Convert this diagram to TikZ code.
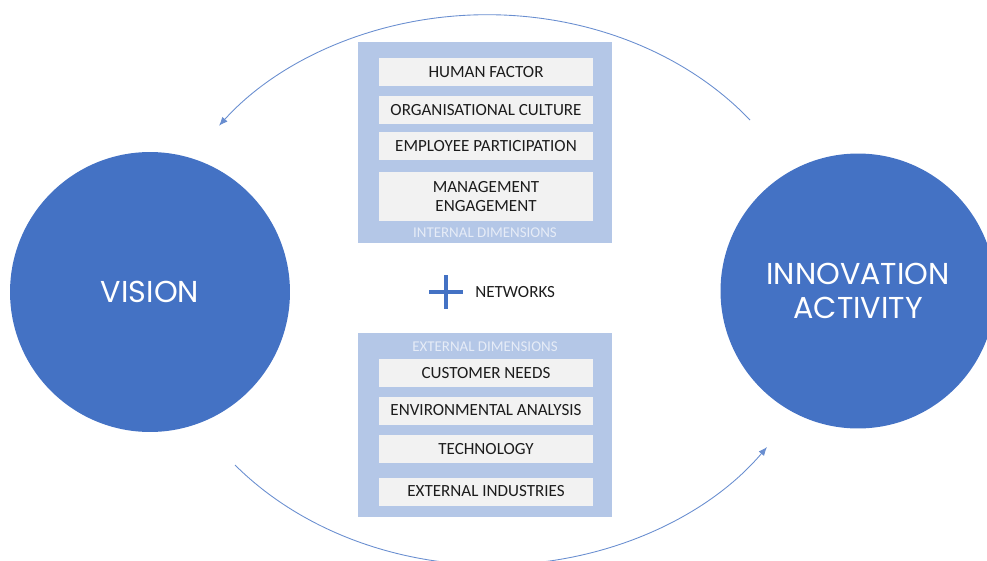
\documentclass[tikz,border=0pt]{standalone}
\usepackage{fontspec}
\setmainfont{Carlito}
\newfontfamily\geofont{Poppins}
\usetikzlibrary{arrows.meta}
\definecolor{cblue}{HTML}{4472C4}
\definecolor{cpanel}{HTML}{B4C7E7}
\definecolor{cbox}{HTML}{F2F2F2}
\definecolor{ctext}{HTML}{1C1C1C}
\definecolor{clabel}{HTML}{E6ECF7}

\begin{document}
\begin{tikzpicture}[x=0.02cm,y=-0.02cm,
  panel/.style={fill=cpanel,minimum width=5.08cm,inner sep=0pt},
  item/.style={fill=cbox,minimum width=4.28cm,minimum height=0.56cm,inner sep=0pt,
    text=ctext,font=\fontsize{9.7}{11.2}\selectfont,align=center},
  dimlabel/.style={text=clabel,font=\fontsize{8.5}{9}\selectfont,inner sep=0pt},
  bubble/.style={circle,fill=cblue,minimum size=5.6cm,inner sep=0pt,text=white,
    font=\geofont\fontsize{17.2}{19.8}\selectfont,align=center},
  loop/.style={cblue!80,line width=0.5pt,-{Latex[length=5pt,width=4pt]}}]
\useasboundingbox (0,0) rectangle (987,561);
% circles
\node[bubble] (vision) at (150,292) {VISION};
\node[bubble,minimum size=5.5cm] (innov) at (858,291) {INNOVATION\\ACTIVITY};
% internal dimensions
\node[panel,minimum height=4.02cm] (inpanel) at (485,142.5) {};
\node[item] (human) at (486,72) {HUMAN FACTOR};
\node[item] (culture) at (486,110) {ORGANISATIONAL CULTURE};
\node[item] (employee) at (486,146) {EMPLOYEE PARTICIPATION};
\node[item,minimum height=0.98cm] (mgmt) at (486,196.5) {MANAGEMENT\\ENGAGEMENT};
\node[dimlabel] (inlabel) at (485,233) {INTERNAL DIMENSIONS};
% networks
\draw[cblue,line width=2.4pt] (429,292) -- (463,292) (446,275) -- (446,309);
\node[anchor=west,text=ctext,font=\fontsize{9.7}{11.2}\selectfont,inner sep=0pt] (net) at (475,292) {NETWORKS};
% external dimensions
\node[panel,minimum height=3.68cm] (expanel) at (485,425) {};
\node[dimlabel] (exlabel) at (485,347) {EXTERNAL DIMENSIONS};
\node[item] (customer) at (486,373) {CUSTOMER NEEDS};
\node[item] (environ) at (486,410.5) {ENVIRONMENTAL ANALYSIS};
\node[item] (tech) at (486,449) {TECHNOLOGY};
\node[item] (industry) at (486,491.5) {EXTERNAL INDUSTRIES};
% loop arrows
\coordinate (topstart) at (750,120);
\coordinate (botstart) at (235,465);
\draw[loop] (topstart) arc[start angle=38.3,end angle=143.2,x radius=6.7cm,y radius=5.54cm];
\draw[loop] (botstart) arc[start angle=219.7,end angle=325,x radius=6.7cm,y radius=5.54cm];
\end{tikzpicture}
\end{document}
